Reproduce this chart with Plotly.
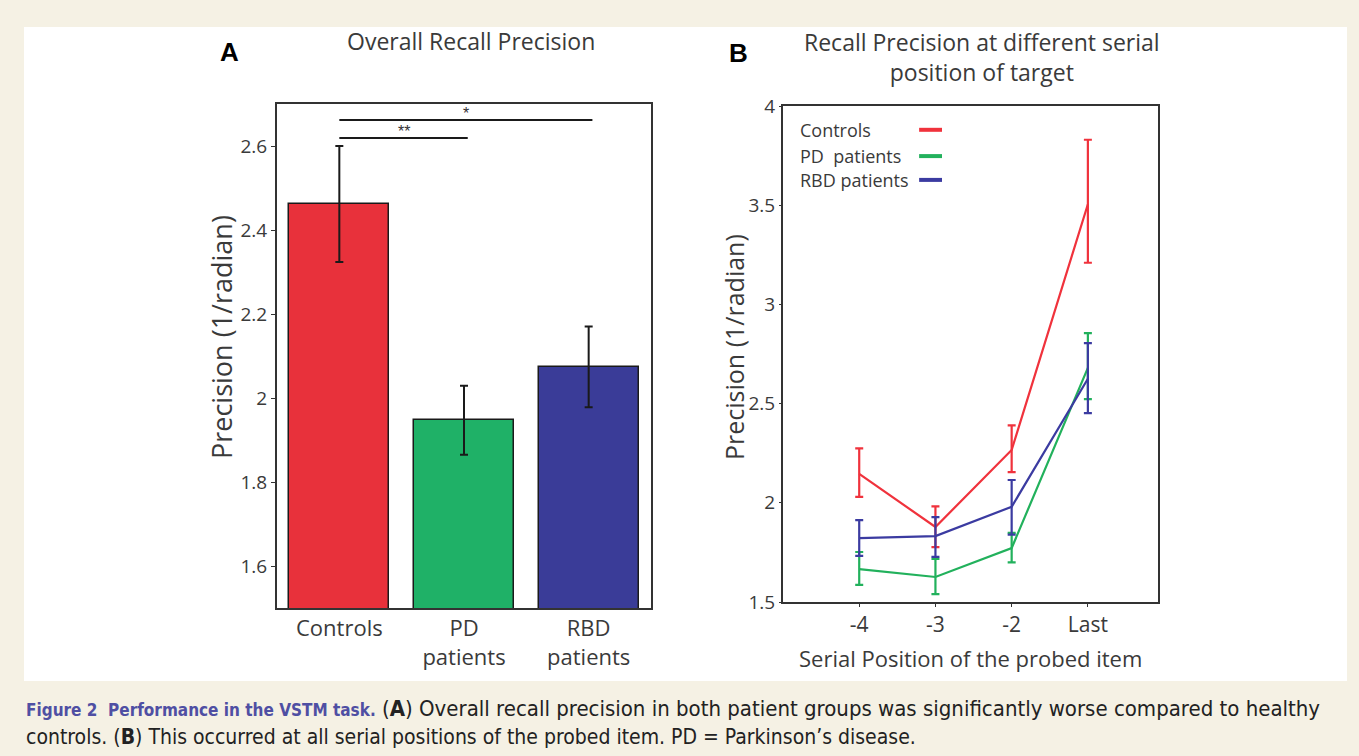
import plotly.graph_objects as go

W, H = 1359, 756

# ---------------- Panel A data ----------------
groups = ["Controls", "PD<br>patients", "RBD<br>patients"]
overall_mean = [2.462, 1.947, 2.074]
overall_err = [0.138, 0.082, 0.096]
bar_colors = ["#e8313b", "#1fb167", "#3a3c98"]
# significance brackets: (from group, to group, level, label)
sig_from = [0, 0]
sig_to = [1, 2]
sig_level = [2.619, 2.662]
sig_label = ["**", "*"]

# ---------------- Panel B data ----------------
positions = ["-4", "-3", "-2", "Last"]
series_names = ["Controls", "PD  patients", "RBD patients"]
ctrl_mean = [2.146, 1.878, 2.266, 3.505]
ctrl_plus = [0.128, 0.104, 0.124, 0.325]
ctrl_minus = [0.116, 0.101, 0.111, 0.295]
pd_mean = [1.666, 1.626, 1.772, 2.680]
pd_plus = [0.086, 0.091, 0.076, 0.175]
pd_minus = [0.080, 0.086, 0.072, 0.157]
rbd_mean = [1.822, 1.832, 1.980, 2.625]
rbd_plus = [0.091, 0.096, 0.135, 0.180]
rbd_minus = [0.090, 0.105, 0.140, 0.173]
line_colors = ["#f0323c", "#22b15c", "#3b3ba1"]

font_main = "Open Sans"
txt = "#3a3a3a"

fig = go.Figure()

# Panel A bars
xA = list(range(len(groups)))
fig.add_trace(go.Bar(
    x=xA, y=overall_mean, width=0.8,
    marker=dict(color=bar_colors, line=dict(color="#1a1a1a", width=1.5)),
    error_y=dict(type="data", array=overall_err, color="#1a1a1a", thickness=2, width=4),
    xaxis="x", yaxis="y", showlegend=False,
))

# Panel B lines
xB = [1, 2, 3, 4]
for name, m, p, n, c in [
    (series_names[0], ctrl_mean, ctrl_plus, ctrl_minus, line_colors[0]),
    (series_names[1], pd_mean, pd_plus, pd_minus, line_colors[1]),
    (series_names[2], rbd_mean, rbd_plus, rbd_minus, line_colors[2]),
]:
    fig.add_trace(go.Scatter(
        x=xB, y=m, mode="lines", name=name,
        line=dict(color=c, width=2.2),
        error_y=dict(type="data", symmetric=False, array=p, arrayminus=n,
                     color=c, thickness=2.2, width=4),
        xaxis="x2", yaxis="y2", showlegend=False,
    ))

def px_x(v):
    return v / W

def px_y(v):
    return 1 - v / H

axis_common = dict(showline=True, linecolor="#333333", linewidth=2, mirror=True,
                   showgrid=False, zeroline=False, automargin=False,
                   tickfont=dict(family=font_main, size=19, color=txt))

fig.update_layout(
    width=W, height=H,
    margin=dict(l=0, r=0, t=0, b=0, pad=0),
    paper_bgcolor="#f5f1e4",
    plot_bgcolor="white",
    bargap=0,
    xaxis=dict(domain=[px_x(277), px_x(651)], range=[-0.5, 2.5], anchor="y",
               tickvals=xA, ticktext=groups, ticks="",
               **{**axis_common, "tickfont": dict(family=font_main, size=22, color=txt)}),
    yaxis=dict(domain=[px_y(608), px_y(104)], range=[1.5, 2.7], anchor="x",
               tickvals=[1.6, 1.8, 2.0, 2.2, 2.4, 2.6],
               ticktext=["1.6", "1.8", "2", "2.2", "2.4", "2.6"],
               ticks="outside", ticklen=4, tickcolor="#333333",
               **axis_common),
    xaxis2=dict(domain=[px_x(783), px_x(1158)], range=[0, 4.92], anchor="y2",
                tickvals=xB, ticktext=positions,
                ticks="outside", ticklen=3, tickcolor="#333333",
                **{**axis_common, "tickfont": dict(family=font_main, size=21, color=txt)}),
    yaxis2=dict(domain=[px_y(602), px_y(106)], range=[1.5, 4], anchor="x2",
                tickvals=[1.5, 2, 2.5, 3, 3.5, 4],
                ticktext=["1.5", "2", "2.5", "3", "3.5", "4"],
                ticks="outside", ticklen=2, tickcolor="#333333",
                **axis_common),
)

shapes = []
# white figure panel
shapes.append(dict(type="rect", xref="paper", yref="paper",
                   x0=px_x(24), x1=px_x(1347), y0=px_y(681), y1=px_y(27),
                   fillcolor="white", line=dict(width=0), layer="below"))

annotations = []
# significance brackets
for a, b, lvl, lab in zip(sig_from, sig_to, sig_level, sig_label):
    shapes.append(dict(type="line", xref="x", yref="y", x0=a, x1=b + 0.03,
                       y0=lvl, y1=lvl, line=dict(color="#1a1a1a", width=2)))
    annotations.append(dict(x=(a + b + 0.03) / 2, y=lvl, xref="x", yref="y",
                            text=lab, showarrow=False, xanchor="center",
                            yanchor="bottom", yshift=-4,
                            font=dict(family="Arial", size=16, color="#333333")))

# legend for panel B (text then short line sample)
leg_y = [0.952, 0.899, 0.851]
for name, c, ly in zip(series_names, line_colors, leg_y):
    annotations.append(dict(x=0.04, y=ly, xref="x2 domain", yref="y2 domain",
                            text=name, showarrow=False, xanchor="left", yanchor="middle",
                            font=dict(family=font_main, size=18, color=txt)))
    shapes.append(dict(type="line", xref="x2 domain", yref="y2 domain",
                       x0=0.363, x1=0.424, y0=ly, y1=ly,
                       line=dict(color=c, width=4)))

def note(x, y, text, size, family=font_main, color=txt, angle=0, xanchor="center"):
    return dict(x=px_x(x), y=px_y(y), xref="paper", yref="paper", text=text,
                showarrow=False, xanchor=xanchor, yanchor="middle", textangle=angle,
                font=dict(family=family, size=size, color=color))

cap_font = "DejaVu Sans Condensed"
annotations += [
    note(229, 52, "<b>A</b>", 26, family="Arial", color="black"),
    note(738, 53, "<b>B</b>", 26, family="Arial", color="black"),
    note(471, 41, "Overall Recall Precision", 23),
    note(982, 57, "Recall Precision at different serial<br>position of target", 23),
    note(221, 337, "Precision (1/radian)", 27, angle=-90),
    note(734, 347, "Precision (1/radian)", 25, angle=-90),
    note(970, 658, "Serial Position of the probed item", 22),
    note(24, 708,
         "<span style='color:#4f4fa3;font-size:17px'><b>Figure 2  Performance in the VSTM task.</b></span> "
         "(<b>A</b>) Overall recall precision in both patient groups was significantly worse compared to healthy",
         22, family=cap_font, color="#222222", xanchor="left"),
    note(24, 737,
         "controls. (<b>B</b>) This occurred at all serial positions of the probed item. PD = Parkinson\u2019s disease.",
         21, family=cap_font, color="#222222", xanchor="left"),
]

fig.update_layout(shapes=shapes, annotations=annotations)
fig.write_html("out.html", config={"displayModeBar": False},
               post_script="document.body.style.margin='0px';")
